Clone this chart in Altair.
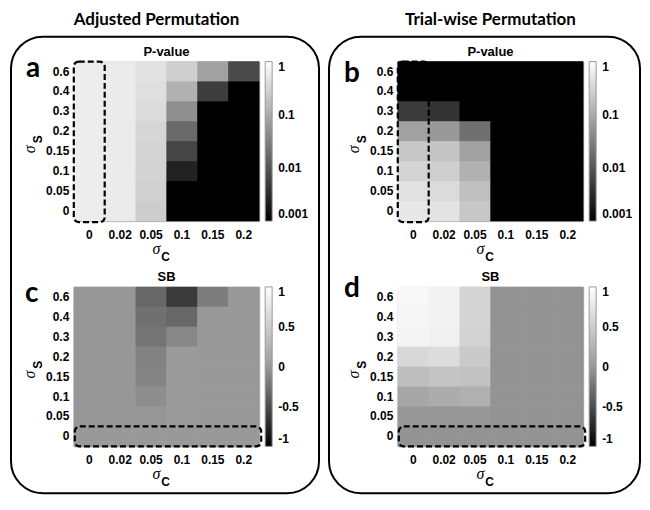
import altair as alt
import pandas as pd

# ---------------- data ----------------
sigma_c = ["0", "0.02", "0.05", "0.1", "0.15", "0.2"]
sigma_s = ["0.6", "0.4", "0.3", "0.2", "0.15", "0.1", "0.05", "0"]  # top -> bottom

# P-value, Adjusted Permutation (rows = sigma_s top->bottom, cols = sigma_c)
pval_adjusted = [
    [0.62, 0.58, 0.46, 0.27, 0.078, 0.0074],
    [0.62, 0.58, 0.42, 0.12, 0.0052, 0.001],
    [0.62, 0.58, 0.38, 0.048, 0.001, 0.001],
    [0.62, 0.58, 0.33, 0.017, 0.001, 0.001],
    [0.62, 0.58, 0.31, 0.0065, 0.001, 0.001],
    [0.62, 0.58, 0.30, 0.0025, 0.001, 0.001],
    [0.62, 0.58, 0.28, 0.001, 0.001, 0.001],
    [0.62, 0.58, 0.26, 0.001, 0.001, 0.001],
]
# P-value, Trial-wise Permutation
pval_trialwise = [
    [0.001, 0.001, 0.001, 0.001, 0.001, 0.001],
    [0.001, 0.001, 0.001, 0.001, 0.001, 0.001],
    [0.0049, 0.004, 0.001, 0.001, 0.001, 0.001],
    [0.078, 0.063, 0.021, 0.001, 0.001, 0.001],
    [0.22, 0.20, 0.078, 0.001, 0.001, 0.001],
    [0.31, 0.27, 0.12, 0.001, 0.001, 0.001],
    [0.44, 0.38, 0.18, 0.001, 0.001, 0.001],
    [0.53, 0.47, 0.22, 0.001, 0.001, 0.001],
]
# SB, Adjusted Permutation
sb_adjusted = [
    [-0.01, -0.01, -0.33, -0.62, -0.18, 0.0],
    [-0.01, -0.01, -0.27, -0.33, 0.0, 0.0],
    [-0.01, -0.01, -0.24, -0.12, 0.0, 0.0],
    [-0.01, -0.01, -0.15, 0.01, 0.0, 0.0],
    [-0.01, -0.01, -0.14, 0.01, 0.0, 0.0],
    [-0.01, -0.01, -0.07, 0.01, 0.0, 0.0],
    [-0.01, -0.01, -0.02, 0.01, 0.0, 0.0],
    [0.0, 0.0, 0.0, 0.0, 0.0, 0.0],
]
# SB, Trial-wise Permutation
sb_trialwise = [
    [0.93, 0.87, 0.58, -0.04, -0.04, -0.04],
    [0.91, 0.87, 0.58, -0.04, -0.04, -0.04],
    [0.89, 0.85, 0.56, -0.04, -0.04, -0.04],
    [0.62, 0.66, 0.48, -0.04, -0.04, -0.04],
    [0.36, 0.42, 0.40, -0.04, -0.04, -0.04],
    [0.13, 0.19, 0.23, -0.04, -0.04, -0.04],
    [-0.01, -0.01, -0.01, -0.04, -0.04, -0.04],
    [-0.04, -0.04, -0.04, -0.04, -0.04, -0.04],
]

column_titles = ["Adjusted Permutation", "Trial-wise Permutation"]
panel_titles = ["P-value", "P-value", "SB", "SB"]
panel_letters = ["a", "b", "c", "d"]
pval_ticks = [0.001, 0.01, 0.1, 1]
sb_ticks = [-1, -0.5, 0, 0.5, 1]

# ---------------- layout ----------------
W, H = 186, 160
FONT = "Liberation Sans"
one = pd.DataFrame({"k": [0]})


def grid_df(matrix):
    rows = []
    for i, s in enumerate(sigma_s):
        for j, c in enumerate(sigma_c):
            rows.append({"sc": c, "ss": s, "v": matrix[i][j]})
    return pd.DataFrame(rows)


x_enc = alt.X(
    "sc:O", title=None,
    scale=alt.Scale(domain=sigma_c, paddingInner=0, paddingOuter=0),
    axis=alt.Axis(labelAngle=0, ticks=False, domain=False, grid=False, labelPadding=8,
                  labelFont=FONT, labelFontSize=12, labelFontWeight="bold",
                  labelColor="black"),
)
y_enc = alt.Y(
    "ss:O", title=None,
    scale=alt.Scale(domain=sigma_s, paddingInner=0, paddingOuter=0),
    axis=alt.Axis(ticks=False, domain=False, grid=False, labelPadding=5,
                  labelFont=FONT, labelFontSize=12, labelFontWeight="bold",
                  labelColor="black"),
)

legend_common = dict(
    orient="right", offset=6, padding=0, direction="vertical",
    gradientLength=H, gradientThickness=7,
    gradientStrokeColor="#9a9a9a", gradientStrokeWidth=1,
    labelFont=FONT, labelFontSize=12, labelFontWeight="bold",
    labelColor="black", labelOffset=6, labelBaseline="middle",
    labelOverlap=False, labelExpr="datum.value + ''",
)


def heat(matrix, kind):
    if kind == "p":
        color = alt.Color(
            "v:Q", title=None,
            scale=alt.Scale(type="log", domain=[0.001, 1], range=["#000000", "#ffffff"],
                            interpolate="rgb", clamp=True),
            legend=alt.Legend(values=pval_ticks, **legend_common),
        )
    else:
        color = alt.Color(
            "v:Q", title=None,
            scale=alt.Scale(domain=[-1, 0, 1], range=["#000000", "#999999", "#ffffff"],
                            interpolate="rgb", clamp=True),
            legend=alt.Legend(values=sb_ticks, **legend_common),
        )
    return alt.Chart(grid_df(matrix)).mark_rect().encode(x=x_enc, y=y_enc, color=color)


def txt(text, x, y, size, weight="bold", font=FONT, align="center",
        baseline="alphabetic", angle=0, style="normal"):
    return alt.Chart(one).mark_text(
        text=text, fontSize=size, fontWeight=weight, font=font, align=align,
        baseline=baseline, angle=angle, fontStyle=style, color="black",
    ).encode(x=alt.value(x), y=alt.value(y))


def box(x1, x2, y1, y2):
    return alt.Chart(one).mark_rect(
        fillOpacity=0, stroke="black", strokeWidth=2, cornerRadius=32
    ).encode(x=alt.value(x1), x2=alt.value(x2), y=alt.value(y1), y2=alt.value(y2))


def anchor(x, y):
    # invisible 1px mark fixing the top-left corner of the figure on whole pixels
    return alt.Chart(one).mark_rect(opacity=0).encode(
        x=alt.value(x), x2=alt.value(x + 1), y=alt.value(y), y2=alt.value(y + 1))


def dashed_col():
    return alt.Chart(pd.DataFrame({"sc": [sigma_c[0]]})).mark_rect(
        fillOpacity=0, stroke="black", strokeWidth=2.2, strokeDash=[6, 3],
        cornerRadius=5, x2Offset=3,
    ).encode(x=x_enc, y=alt.value(0), y2=alt.value(H + 1))


def dashed_row():
    return alt.Chart(pd.DataFrame({"ss": [sigma_s[-1]]})).mark_rect(
        fillOpacity=0, stroke="black", strokeWidth=2.2, strokeDash=[6, 3],
        cornerRadius=5,
    ).encode(y=y_enc, x=alt.value(1), x2=alt.value(W + 2))


def axis_titles():
    return [
        txt("σ", W / 2 - 10, H + 28, 16, weight="normal", font="Liberation Serif",
            baseline="middle", style="italic"),
        txt("C", W / 2 - 1, H + 36, 12, baseline="middle"),
        txt("σ", -44, H / 2 + 8, 16, weight="normal", font="Liberation Serif",
            baseline="middle", style="italic", angle=270),
        txt("S", -36, H / 2 - 2, 12, baseline="middle", angle=270),
    ]


def panel(matrix, kind, idx, letter_x, letter_base, extras):
    # the cells are drawn three times over so that the anti-aliased seams
    # between neighbouring cells disappear
    cells = heat(matrix, kind)
    layers = [cells, cells, cells]
    layers.append(dashed_col() if kind == "p" else dashed_row())
    layers.append(txt(panel_titles[idx], W / 2, -6, 13))
    layers.append(txt(panel_letters[idx], letter_x, letter_base, 28, font="Lato", align="left"))
    layers += axis_titles()
    layers += extras
    return alt.layer(*layers).properties(width=W, height=H)


RS = 66  # row spacing
CS = 139  # column spacing
box_bottom = H + RS + H + 47

pa = panel(pval_adjusted, "p", 0, -48, 15, [
    txt(column_titles[0], 83, -37, 17, font="Lato"),
    box(-63, 246, -25, box_bottom),
    anchor(-65, -52),
])
pb = panel(pval_trialwise, "p", 1, -54, 20, [
    txt(column_titles[1], 93, -37, 17, font="Lato"),
    box(-69, 243, -25, box_bottom),
])
pc = panel(sb_adjusted, "sb", 2, -49, 15, [])
pdn = panel(sb_trialwise, "sb", 3, -54, 10, [])

chart = alt.concat(
    pa, pb, pc, pdn, columns=2,
    spacing={"row": RS, "column": CS}, bounds="flush",
).resolve_scale(
    color="independent", x="independent", y="independent"
).resolve_legend(
    color="independent"
).properties(
    padding=0
).configure(
    background="white"
).configure_view(
    stroke="#a8a8a8", strokeWidth=1
)

chart.save("out.html", embed_options={"renderer": "svg", "actions": False})
